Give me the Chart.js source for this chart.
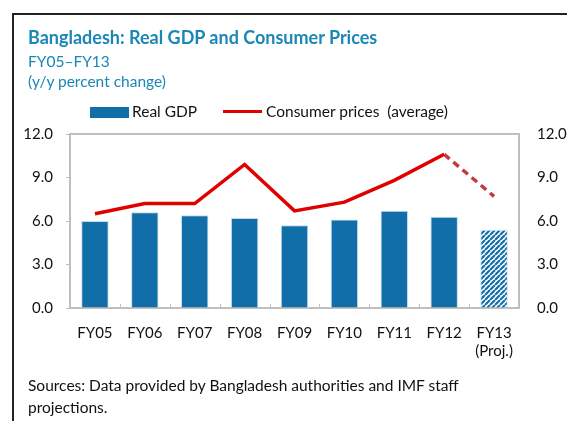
<!DOCTYPE html>
<html>
<head>
<meta charset="utf-8">
<script src="https://cdn.jsdelivr.net/npm/chart.js@4"></script>
<style>
  body { margin: 0; background: #fff; }
  #wrap { position: relative; width: 567px; height: 421px; overflow: hidden; font-family: Lato, "Open Sans", sans-serif; }
  #frame { position: absolute; left: 12px; top: 13px; width: 600px; height: 500px; border-left: 2px solid #222; border-top: 2px solid #222; }
  canvas { position: absolute; left: 0; top: 0; }
  .t { position: absolute; left: 28px; white-space: nowrap; color: #1b87b6; }
  #title { top: 26px; font-size: 18px; font-weight: bold; }
  #sub1 { top: 52px; font-size: 15.5px; }
  #sub2 { top: 72px; font-size: 15.5px; }
  .leg { position: absolute; top: 102px; font-size: 15.5px; color: #111; white-space: nowrap; }
  #src { position: absolute; left: 28px; top: 374px; font-size: 15.5px; line-height: 22px; color: #111; }
</style>
</head>
<body>
<div id="wrap">
  <div id="frame"></div>
  <canvas id="myChart" width="567" height="421"></canvas>
  <div class="t" id="title">Bangladesh: Real GDP and Consumer Prices</div>
  <div class="t" id="sub1">FY05–FY13</div>
  <div class="t" id="sub2">(y/y percent change)</div>
  <div class="leg" style="left:90px;"><span style="display:inline-block;width:39px;height:11px;background:#116ea8;vertical-align:-1px;margin-right:3px;"></span>Real GDP</div>
  <div class="leg" style="left:223px;"><span style="display:inline-block;width:39px;height:3px;background:#e00000;vertical-align:4px;margin-right:4px;"></span>Consumer prices&nbsp; (average)</div>
  <div id="src">Sources: Data provided by Bangladesh authorities and IMF staff<br>projections.</div>
</div>
<script>
'use strict';

let categories = ['FY05', 'FY06', 'FY07', 'FY08', 'FY09', 'FY10', 'FY11', 'FY12', ['FY13', '(Proj.)']];
let realGdp = [6.0, 6.6, 6.4, 6.2, 5.7, 6.1, 6.7, 6.3, 5.4];
let consumerPrices = [6.5, 7.2, 7.2, 9.9, 6.7, 7.3, 8.8, 10.6, 7.7];
let tickValues = [0, 3, 6, 9, 12];
let projectedIndex = 8;

let blue = '#116ea8';

function makeHatch(){
  let c = document.createElement('canvas');
  c.width = 5;
  c.height = 5;
  let g = c.getContext('2d');
  g.fillStyle = '#fff';
  g.fillRect(0, 0, 5, 5);
  g.strokeStyle = blue;
  g.lineWidth = 2.2;
  g.beginPath();
  for (let k = -5; k <= 10; k += 5){
    g.moveTo(k, 5);
    g.lineTo(k + 5, 0);
  }
  g.stroke();
  return g.createPattern(c, 'repeat');
}
let hatch = makeHatch();

let barColors = realGdp.map((v, i) => i === projectedIndex ? hatch : blue);

// small inner tick marks between categories on the x axis
let innerTicks = {
  id: 'innerTicks',
  afterDraw(chart){
    let x = chart.scales.x;
    let ctx = chart.ctx;
    let bottom = chart.chartArea.bottom;
    ctx.save();
    ctx.strokeStyle = '#bfbfbf';
    ctx.lineWidth = 1;
    for (let i = 1; i < categories.length; i++){
      let px = Math.round((x.getPixelForTick(i - 1) + x.getPixelForTick(i)) / 2) + 0.5;
      ctx.beginPath();
      ctx.moveTo(px, bottom);
      ctx.lineTo(px, bottom - 4);
      ctx.stroke();
    }
    ctx.restore();
  }
};

let tickFont = { family: 'Lato, "Open Sans", sans-serif', size: 15 };

let ctx = document.getElementById('myChart').getContext('2d');
let myChart = new Chart(ctx, {
  data: {
    labels: categories,
    datasets: [
      {
        type: 'line',
        label: 'Consumer prices  (average)',
        data: consumerPrices,
        borderColor: '#e00000',
        borderWidth: 3.5,
        pointRadius: 0,
        tension: 0,
        yAxisID: 'y',
        order: 0,
        segment: {
          borderDash: c => c.p1DataIndex === projectedIndex ? [7, 5] : undefined,
          borderColor: c => c.p1DataIndex === projectedIndex ? '#c43a3a' : undefined
        }
      },
      {
        type: 'bar',
        label: 'Real GDP',
        data: realGdp,
        backgroundColor: barColors,
        borderColor: 'rgba(190,215,235,0.9)',
        borderWidth: { top: 1, left: 1, right: 1, bottom: 0 },
        barPercentage: 0.55,
        categoryPercentage: 1,
        yAxisID: 'y',
        order: 1
      }
    ]
  },
  options: {
    responsive: false,
    animation: false,
    layout: { padding: { top: 134, left: 0, right: 0, bottom: 0 } },
    plugins: { legend: { display: false }, tooltip: { enabled: false } },
    scales: {
      x: {
        offset: true,
        grid: { display: false },
        border: { display: true, color: '#bfbfbf', width: 2 },
        ticks: { color: '#111', font: tickFont, padding: 8, maxRotation: 0, autoSkip: false },
        afterFit(scale){ scale.height = 113; }
      },
      y: {
        position: 'left',
        min: 0,
        max: 12,
        afterBuildTicks(scale){ scale.ticks = tickValues.map(v => ({ value: v })); },
        grid: { drawOnChartArea: false, drawTicks: true, tickLength: 4, color: '#bfbfbf' },
        border: { display: true, color: '#bfbfbf', width: 2 },
        ticks: { color: '#111', font: tickFont, padding: 13, callback: v => v.toFixed(1) },
        afterFit(scale){ scale.width = 70; }
      },
      y2: {
        position: 'right',
        min: 0,
        max: 12,
        afterBuildTicks(scale){ scale.ticks = tickValues.map(v => ({ value: v })); },
        grid: { drawOnChartArea: false, drawTicks: false },
        border: { display: true, color: '#bfbfbf', width: 2 },
        ticks: { color: '#111', font: tickFont, padding: 18, callback: v => v.toFixed(1) },
        afterFit(scale){ scale.width = 48; }
      },
      top: {
        position: 'top',
        type: 'category',
        labels: categories,
        grid: { display: false },
        border: { display: true, color: '#bfbfbf', width: 2 },
        ticks: { display: false },
        afterFit(scale){ scale.height = 0; }
      }
    }
  },
  plugins: [innerTicks]
});
</script>
</body>
</html>
